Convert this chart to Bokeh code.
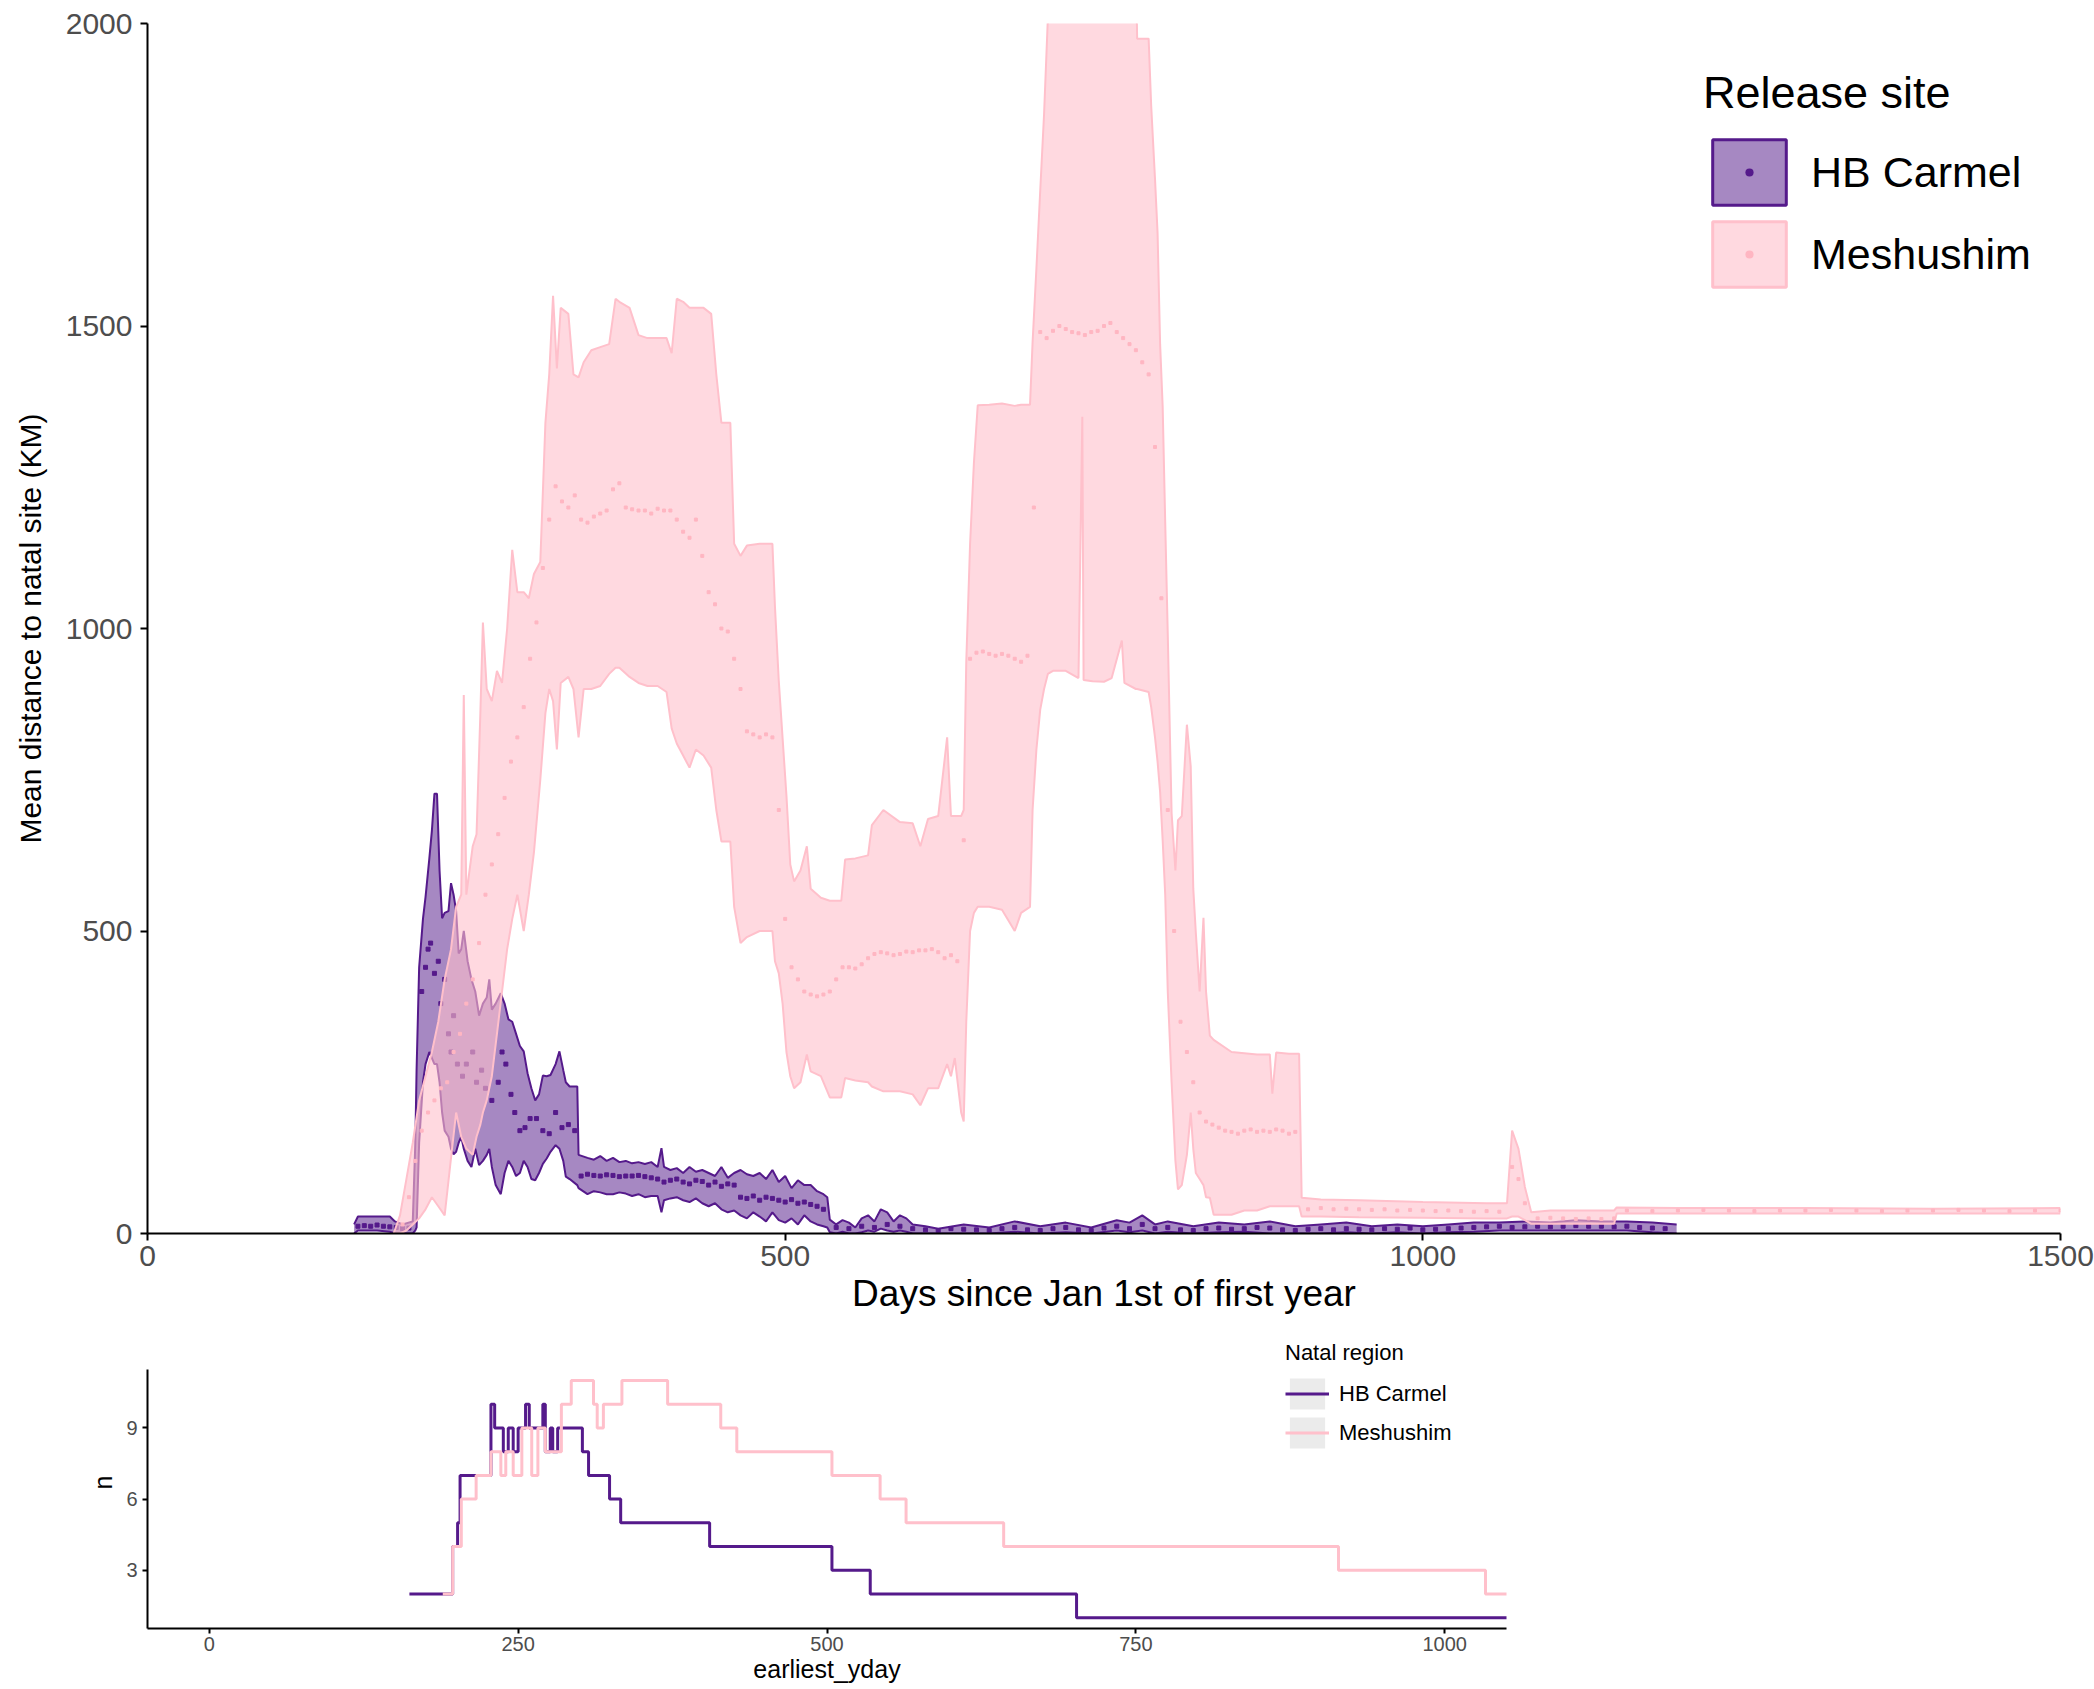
from bokeh.plotting import figure
from bokeh.models import Range1d, FixedTicker, Legend, LegendItem
from bokeh.layouts import column
from bokeh.embed import file_html
from bokeh.resources import INLINE
from bokeh.core.properties import value

FONT = "Liberation Sans"
PURPLE = "#551A8B"
PINK = "#FFC0CB"
TICK_GREY = "#4D4D4D"
NAN = float("nan")

# ---------------- top panel data ----------------
x_ticks_top = [0, 500, 1000, 1500]
y_ticks_top = [0, 500, 1000, 1500, 2000]

mesh_day = [193, 198, 203, 208, 213, 218, 223, 228, 233, 238,
            242, 246, 248, 250, 255, 258, 261, 263, 266, 270,
            274, 278, 282, 286, 290, 295, 299, 303, 308, 312,
            315, 318, 321, 324, 330, 334, 338, 342, 348, 355,
            362, 367, 370, 378, 385, 392, 400, 407, 411, 415,
            420, 425, 430, 436, 442, 446, 450, 457, 460, 465,
            470, 480, 490, 492, 495, 498, 501, 504, 507, 512,
            517, 520, 528, 535, 544, 547, 555, 565, 568, 577,
            590, 600, 606, 612, 620, 627, 630, 633, 638, 640,
            642, 645, 648, 651, 660, 670, 680, 685, 692, 694,
            697, 700, 703, 706, 710, 720, 730, 733, 734, 741,
            750, 756, 764, 766, 775, 776, 785, 787, 790, 792,
            794, 796, 798, 800, 803, 806, 808, 811, 815, 818,
            820, 822, 825, 828, 830, 833, 836, 850, 860, 870,
            880, 882, 885, 895, 903, 905, 920, 950, 1000, 1050,
            1066, 1070, 1075, 1080, 1085, 1100, 1150, 1152, 1200, 1300,
            1400, 1500]
mesh_upper = [0, 30, 90, 150, 220, 260, 300, 350, 420, 470,
              540, 560, 890, 560, 640, 660, 860, 1010, 900, 880,
              930, 910, 1000, 1130, 1060, 1060, 1050, 1090, 1110, 1340,
              1420, 1550, 1430, 1530, 1520, 1420, 1415, 1440, 1460, 1465,
              1470, 1545, 1540, 1530, 1485, 1480, 1480, 1480, 1455, 1545,
              1540, 1530, 1530, 1530, 1520, 1420, 1340, 1340, 1140, 1120,
              1137, 1140, 1140, 1036, 913, 818, 724, 610, 582, 600,
              640, 570, 555, 550, 550, 618, 620, 625, 675, 700,
              680, 678, 640, 685, 690, 820, 690, 690, 690, 700,
              945, 1140, 1274, 1369, 1370, 1372, 1368, 1370, 1370, 1473,
              1595, 1724, 1850, 2010, 2100, 2100, 2100, 2100, 2100, 2100,
              2100, 2100, 2100, 2100, 2100, 1975, 1975, 1864, 1743, 1654,
              1470, 1367, 1175, 990, 695, 600, 683, 690, 841, 772,
              570, 497, 400, 522, 400, 327, 320, 300, 298, 296,
              296, 231, 299, 297, 297, 59, 56, 55, 52, 50,
              50, 170, 140, 77, 35, 38, 38, 43, 42, 42,
              41, 42]
mesh_lower = [0, 0, 5, 15, 25, 40, 60, 45, 30, 125,
              200, 160, 150, 140, 130, 160, 180, 200, 220, 260,
              330, 400, 470, 520, 560, 500, 560, 630, 750, 860,
              900, 880, 800, 910, 920, 900, 820, 900, 900, 905,
              925, 935, 935, 920, 910, 905, 905, 895, 835, 810,
              790, 770, 800, 790, 770, 700, 648, 648, 540, 480,
              490, 500, 500, 450, 430, 380, 300, 260, 240, 250,
              296, 268, 260, 225, 225, 257, 253, 250, 243, 235,
              235, 230, 212, 240, 240, 280, 260, 290, 200, 185,
              350, 500, 530, 540, 540, 535, 500, 530, 540, 700,
              800, 866, 900, 925, 930, 930, 918, 1350, 915, 913,
              912, 918, 980, 910, 900, 900, 895, 870, 820, 780,
              730, 650, 560, 400, 250, 120, 73, 80, 130, 200,
              140, 100, 90, 80, 60, 59, 31, 31, 38, 38,
              45, 45, 45, 45, 45, 28, 28, 27, 26, 25,
              25, 28, 28, 22, 16, 16, 16, 33, 33, 33,
              33, 33]

mesh_mean_day = [200, 205, 210, 215, 220, 225, 230, 235, 240, 245,
                 250, 255, 260, 265, 270, 275, 280, 285, 290, 295,
                 300, 305, 310, 315, 320, 325, 330, 335, 340, 345,
                 350, 355, 360, 365, 370, 375, 380, 385, 390, 395,
                 400, 405, 410, 415, 420, 425, 430, 435, 440, 445,
                 450, 455, 460, 465, 470, 475, 480, 485, 490, 495,
                 500, 505, 510, 515, 520, 525, 530, 535, 540, 545,
                 550, 555, 560, 565, 570, 575, 580, 585, 590, 595,
                 600, 605, 610, 615, 620, 625, 630, 635, 640, 645,
                 650, 655, 660, 665, 670, 675, 680, 685, 690, 695,
                 700, 705, 710, 715, 720, 725, 730, 735, 740, 745,
                 750, 755, 760, 765, 770, 775, 780, 785, 790, 795,
                 800, 805, 810, 815, 820, 825, 830, 835, 840, 845,
                 850, 855, 860, 865, 870, 875, 880, 885, 890, 895,
                 900, 910, 920, 930, 940, 950, 960, 970, 980, 990,
                 1000, 1010, 1020, 1030, 1040, 1050, 1060, 1070, 1075, 1080,
                 1090, 1100, 1110, 1120, 1130, 1140, 1150, 1160, 1180, 1200,
                 1220, 1240, 1260, 1280, 1300, 1320, 1340, 1360, 1380, 1400,
                 1420, 1440, 1460, 1480, 1500]
mesh_mean = [15, 60, 120, 170, 200, 220, 240, 250, 300, 330,
             380, 420, 480, 560, 610, 660, 720, 780, 820, 870,
             950, 1010, 1100, 1180, 1235, 1210, 1200, 1220, 1180, 1175,
             1185, 1190, 1195, 1230, 1240, 1200, 1197, 1195, 1195, 1190,
             1198, 1195, 1195, 1180, 1160, 1150, 1180, 1120, 1060, 1040,
             1000, 995, 950, 900, 830, 825, 820, 825, 820, 700,
             520, 440, 420, 400, 395, 392, 395, 400, 420, 440,
             440, 438, 445, 455, 462, 465, 463, 460, 462, 466,
             465, 468, 468, 470, 465, 455, 460, 450, 650, 950,
             960, 962, 958, 955, 958, 955, 950, 945, 955, 1200,
             1490, 1480, 1492, 1500, 1495, 1490, 1488, 1485, 1490, 1492,
             1500, 1505, 1490, 1480, 1470, 1460, 1440, 1420, 1300, 1050,
             700, 500, 350, 300, 250, 200, 185, 180, 175, 170,
             168, 165, 170, 172, 168, 170, 168, 172, 170, 165,
             168, 40, 42, 40, 41, 40, 39, 40, 38, 39,
             38, 37, 38, 37, 36, 37, 36, 110, 90, 50,
             25, 26, 25, 24, 25, 24, 25, 38, 37, 38,
             39, 38, 37, 38, 38, 39, 38, 37, 38, 38,
             39, 38, 37, 38, 38]

carm_day = [162, 165, 180, 190, 194, 200, 208, 210, 211, 213,
            216, 218, 221, 223, 225, 227, 229, 231, 233, 236,
            238, 240, 242, 244, 246, 248, 251, 254, 257, 260,
            263, 266, 268, 270, 273, 277, 280, 283, 286, 289,
            292, 295, 298, 301, 304, 307, 310, 313, 316, 320,
            323, 326, 328, 331, 337, 338, 345, 350, 355, 360,
            365, 370, 375, 380, 385, 390, 395, 400, 403, 405,
            410, 415, 420, 425, 430, 435, 440, 445, 450, 455,
            460, 465, 470, 475, 480, 485, 490, 495, 500, 505,
            510, 515, 520, 525, 530, 533, 535, 540, 545, 550,
            555, 560, 565, 570, 575, 580, 585, 590, 595, 600,
            610, 620, 640, 660, 680, 700, 720, 740, 760, 770,
            780, 790, 800, 820, 840, 860, 880, 900, 920, 940,
            960, 980, 1000, 1020, 1040, 1060, 1080, 1100, 1120, 1140,
            1160, 1180, 1199]
carm_upper = [15, 28, 28, 28, 20, 15, 20, 150, 272, 440,
              520, 556, 620, 666, 727, 727, 600, 521, 530, 533,
              579, 560, 533, 463, 470, 500, 450, 420, 400, 360,
              380, 390, 420, 370, 380, 397, 380, 354, 350, 330,
              310, 301, 265, 240, 220, 230, 261, 260, 262, 280,
              301, 270, 250, 243, 243, 130, 125, 122, 128, 120,
              125, 118, 120, 116, 118, 115, 118, 110, 141, 110,
              105, 108, 100, 110, 102, 105, 100, 95, 110, 92,
              100, 105, 98, 95, 100, 90, 105, 85, 95, 75,
              88, 80, 80, 70, 65, 60, 23, 15, 22, 18,
              10, 25, 30, 20, 40, 35, 20, 30, 25, 15,
              12, 8, 15, 10, 20, 12, 18, 10, 22, 18,
              30, 15, 20, 12, 18, 15, 20, 12, 15, 18,
              12, 15, 12, 15, 18, 18, 20, 18, 22, 20,
              20, 18, 15]
carm_lower = [0, 5, 5, 3, 0, 0, 0, 5, 10, 150,
              250, 280, 300, 290, 280, 280, 250, 200, 170, 160,
              140, 131, 135, 150, 160, 140, 120, 110, 140, 113,
              120, 130, 140, 110, 80, 65, 100, 120, 110, 95,
              100, 120, 110, 90, 88, 100, 115, 124, 135, 146,
              140, 120, 94, 90, 80, 75, 65, 70, 68, 65,
              65, 68, 66, 62, 65, 60, 62, 62, 35, 55,
              58, 60, 55, 52, 58, 50, 45, 50, 40, 35,
              38, 30, 25, 35, 28, 20, 35, 22, 18, 25,
              15, 30, 20, 15, 12, 10, 2, 0, 3, 0,
              0, 2, 5, 3, 8, 5, 3, 5, 3, 0,
              0, 0, 0, 0, 3, 0, 2, 0, 5, 2,
              5, 0, 3, 0, 2, 3, 0, 0, 0, 2,
              0, 2, 0, 2, 3, 5, 5, 5, 5, 5,
              5, 2, 0]

carm_mean_day = [165, 170, 175, 180, 185, 190, 195, 200, 205,
                 215, 218, 220, 222, 225, 228, 230, 233, 236, 238,
                 240, 243, 247, 250, 255, 258, 262, 265, 270, 275,
                 278, 281, 285, 288, 292, 296, 300, 305, 310, 315,
                 320, 325, 330, 335,
                 340, 345, 350, 355, 360, 365, 370, 375, 380, 385, 390, 395, 400,
                 405, 410, 415, 420, 425, 430, 435, 440, 445, 450, 455, 460,
                 465, 470, 475, 480, 485, 490, 495, 500, 505, 510, 515, 520, 525, 530,
                 540, 550, 560, 570, 580, 590, 600, 610, 620, 630,
                 640, 650, 660, 670, 680, 690, 700, 710, 720, 730,
                 740, 750, 760, 770, 780, 790, 800, 810, 820, 830,
                 840, 850, 860, 870, 880, 890, 900, 910, 920, 930,
                 940, 950, 960, 970, 980, 990, 1000, 1010, 1020, 1030,
                 1040, 1050, 1060, 1070, 1080, 1090, 1100, 1110, 1120, 1130,
                 1140, 1150, 1160, 1170, 1180, 1190]
carm_mean = [12, 13, 12, 14, 12, 11, 10, 8, 9,
             400, 440, 470, 480, 430, 450, 380, 420, 330, 300,
             360, 280, 260, 280, 300, 250, 270, 240, 220, 250,
             300, 280, 230, 200, 170, 175, 190, 190, 170, 165,
             200, 175, 180, 170,
             95, 98, 96, 95, 97, 96, 94, 95, 95, 96, 94, 92, 90,
             85, 88, 90, 85, 82, 88, 86, 80, 85, 78, 82, 80,
             60, 58, 62, 55, 60, 58, 55, 52, 56, 50, 52, 48, 45, 40,
             10, 8, 12, 10, 15, 12, 8, 6, 5, 8,
             7, 6, 5, 8, 10, 6, 5, 8, 10, 6,
             5, 9, 12, 8, 15, 8, 10, 6, 5, 8,
             9, 7, 8, 10, 9, 6, 5, 7, 8, 6,
             8, 7, 6, 8, 7, 9, 6, 7, 8, 9,
             10, 11, 12, 10, 11, 12, 11, 12, 13, 12,
             12, 11, 12, 10, 9, 8]

# ---------------- bottom panel data ----------------
x_ticks_bot = [0, 250, 500, 750, 1000]
y_ticks_bot = [3, 6, 9]

n_carm_day = [162, 197, 201, 203, 228, 231, 238, 242, 246, 250, 256, 259, 270,
              272, 276, 278, 282, 302, 307, 324, 333, 405, 504, 535, 702, 1060]
n_carm = [2, 4, 5, 7, 10, 9, 8, 9, 8, 9, 10, 9, 10,
          8, 9, 8, 9, 8, 7, 6, 5, 4, 3, 2, 1, 1]

n_mesh_day = [189, 197, 204, 216, 228, 236, 240, 246, 253, 261, 266, 272, 285, 293,
              311, 314, 319, 334, 371, 414, 427, 504, 543, 564, 643, 914, 1033, 1060]
n_mesh = [2, 4, 6, 7, 8, 7, 8, 7, 9, 7, 9, 8, 10, 11,
          10, 9, 10, 11, 10, 9, 8, 7, 6, 5, 4, 3, 2, 2]


def style_axes(p, tick_size, title_size, line_w, tick_out):
    for ax in (p.xaxis[0], p.yaxis[0]):
        ax.axis_line_color = "black"
        ax.axis_line_width = line_w
        ax.major_tick_line_color = "black"
        ax.major_tick_line_width = line_w
        ax.major_tick_out = tick_out
        ax.major_tick_in = 0
        ax.minor_tick_line_color = None
        ax.major_label_text_font = FONT
        ax.major_label_text_font_size = tick_size
        ax.major_label_text_color = TICK_GREY
        ax.axis_label_text_font = FONT
        ax.axis_label_text_font_size = title_size
        ax.axis_label_text_font_style = "normal"
        ax.axis_label_text_color = "black"
    p.xgrid.grid_line_color = None
    p.ygrid.grid_line_color = None
    p.outline_line_color = None
    p.background_fill_color = "white"
    p.border_fill_color = "white"


# ---------------- top figure ----------------
p1 = figure(width=2094, height=1320, x_range=Range1d(0, 1500), y_range=Range1d(0, 2000),
            output_backend="svg", toolbar_location=None,
            min_border_left=147, min_border_right=21, min_border_top=23, min_border_bottom=87)
style_axes(p1, "30px", "37px", 2, 7)
p1.xaxis.ticker = FixedTicker(ticks=x_ticks_top)
p1.yaxis.ticker = FixedTicker(ticks=y_ticks_top)
p1.xaxis.axis_label = "Days since Jan 1st of first year"
p1.yaxis.axis_label = "Mean distance to natal site (KM)"
p1.yaxis.axis_label_text_font_size = "30px"
p1.xaxis.major_label_standoff = 5
p1.yaxis.major_label_standoff = 8
p1.xaxis.axis_label_standoff = 4
p1.yaxis.axis_label_standoff = 16

# HB Carmel ribbon
p1.varea(x=carm_day, y1=carm_lower, y2=carm_upper, fill_color=PURPLE, fill_alpha=0.52)
p1.line(carm_day, carm_upper, line_color=PURPLE, line_width=2)
p1.line(carm_day, carm_lower, line_color=PURPLE, line_width=2)
p1.scatter(carm_mean_day, carm_mean, marker="square", size=4, color=PURPLE)

# Meshushim ribbon (drawn on top)
p1.varea(x=mesh_day, y1=mesh_lower, y2=mesh_upper, fill_color=PINK, fill_alpha=0.6)
p1.line(mesh_day, mesh_upper, line_color=PINK, line_width=2)
p1.line(mesh_day, mesh_lower, line_color=PINK, line_width=2)
p1.scatter(mesh_mean_day, mesh_mean, marker="square", size=3, color="#FFB6C2")

# legend proxies (NaN data: nothing drawn in the plot, only in the legend)
lg_c_box = p1.quad(left=[NAN], right=[NAN], top=[NAN], bottom=[NAN], fill_color=PURPLE,
                   fill_alpha=0.52, line_color=PURPLE, line_width=3)
lg_c_dot = p1.scatter(x=[NAN], y=[NAN], marker="dot", size=6, color=PURPLE, line_width=2)
lg_m_box = p1.quad(left=[NAN], right=[NAN], top=[NAN], bottom=[NAN], fill_color=PINK,
                   fill_alpha=0.6, line_color=PINK, line_width=3)
lg_m_dot = p1.scatter(x=[NAN], y=[NAN], marker="dot", size=6, color="#FFB6C2", line_width=2)

leg1 = Legend(items=[LegendItem(label=value("HB Carmel"), renderers=[lg_c_box, lg_c_dot]),
                     LegendItem(label=value("Meshushim"), renderers=[lg_m_box, lg_m_dot])],
              location=(1556, 938), title="Release site",
              title_text_font=FONT, title_text_font_size="45px", title_text_font_style="normal",
              title_text_color="black", title_standoff=12,
              label_text_font=FONT, label_text_font_size="43px", label_text_color="black",
              label_standoff=16, glyph_width=92, glyph_height=82, spacing=0, padding=5,
              margin=0, border_line_color=None, background_fill_alpha=0)
p1.add_layout(leg1, "center")

# ---------------- bottom figure ----------------
# frame extends a little above the data area so that the legend title is inside it;
# the visible axis line is limited with bounds
p2 = figure(width=1540, height=369, x_range=Range1d(-50, 1050), y_range=Range1d(0.55, 12.85),
            output_backend="svg", toolbar_location=None,
            min_border_left=146, min_border_right=34, min_border_top=16, min_border_bottom=61)
style_axes(p2, "20px", "25px", 2, 5)
p2.xaxis.ticker = FixedTicker(ticks=x_ticks_bot)
p2.yaxis.ticker = FixedTicker(ticks=y_ticks_bot)
p2.yaxis.bounds = (0.55, 11.45)
p2.xaxis.axis_label = "earliest_yday"
p2.yaxis.axis_label = "n"
p2.xaxis.major_label_standoff = 3
p2.yaxis.major_label_standoff = 5
p2.xaxis.axis_label_standoff = 1
p2.yaxis.axis_label_standoff = 6

r_c = p2.step(n_carm_day, n_carm, mode="after", line_color=PURPLE, line_width=3)
r_m = p2.step(n_mesh_day, n_mesh, mode="after", line_color=PINK, line_width=3)

bg1 = p2.quad(left=[NAN], right=[NAN], top=[NAN], bottom=[NAN], fill_color="#EBEBEB", line_color=None)
bg2 = p2.quad(left=[NAN], right=[NAN], top=[NAN], bottom=[NAN], fill_color="#EBEBEB", line_color=None)
leg2 = Legend(items=[LegendItem(label=value("HB Carmel"), renderers=[bg1, r_c]),
                     LegendItem(label=value("Meshushim"), renderers=[bg2, r_m])],
              location=(1138, 176), title="Natal region",
              title_text_font=FONT, title_text_font_size="22px", title_text_font_style="normal",
              title_text_color="black", title_standoff=8,
              label_text_font=FONT, label_text_font_size="22px", label_text_color="black",
              label_standoff=10, glyph_width=44, glyph_height=39, spacing=0, padding=2,
              margin=0, border_line_color=None, background_fill_alpha=0)
p2.add_layout(leg2, "center")

layout = column(p1, p2)
open("out.html", "w").write(file_html(layout, INLINE))
